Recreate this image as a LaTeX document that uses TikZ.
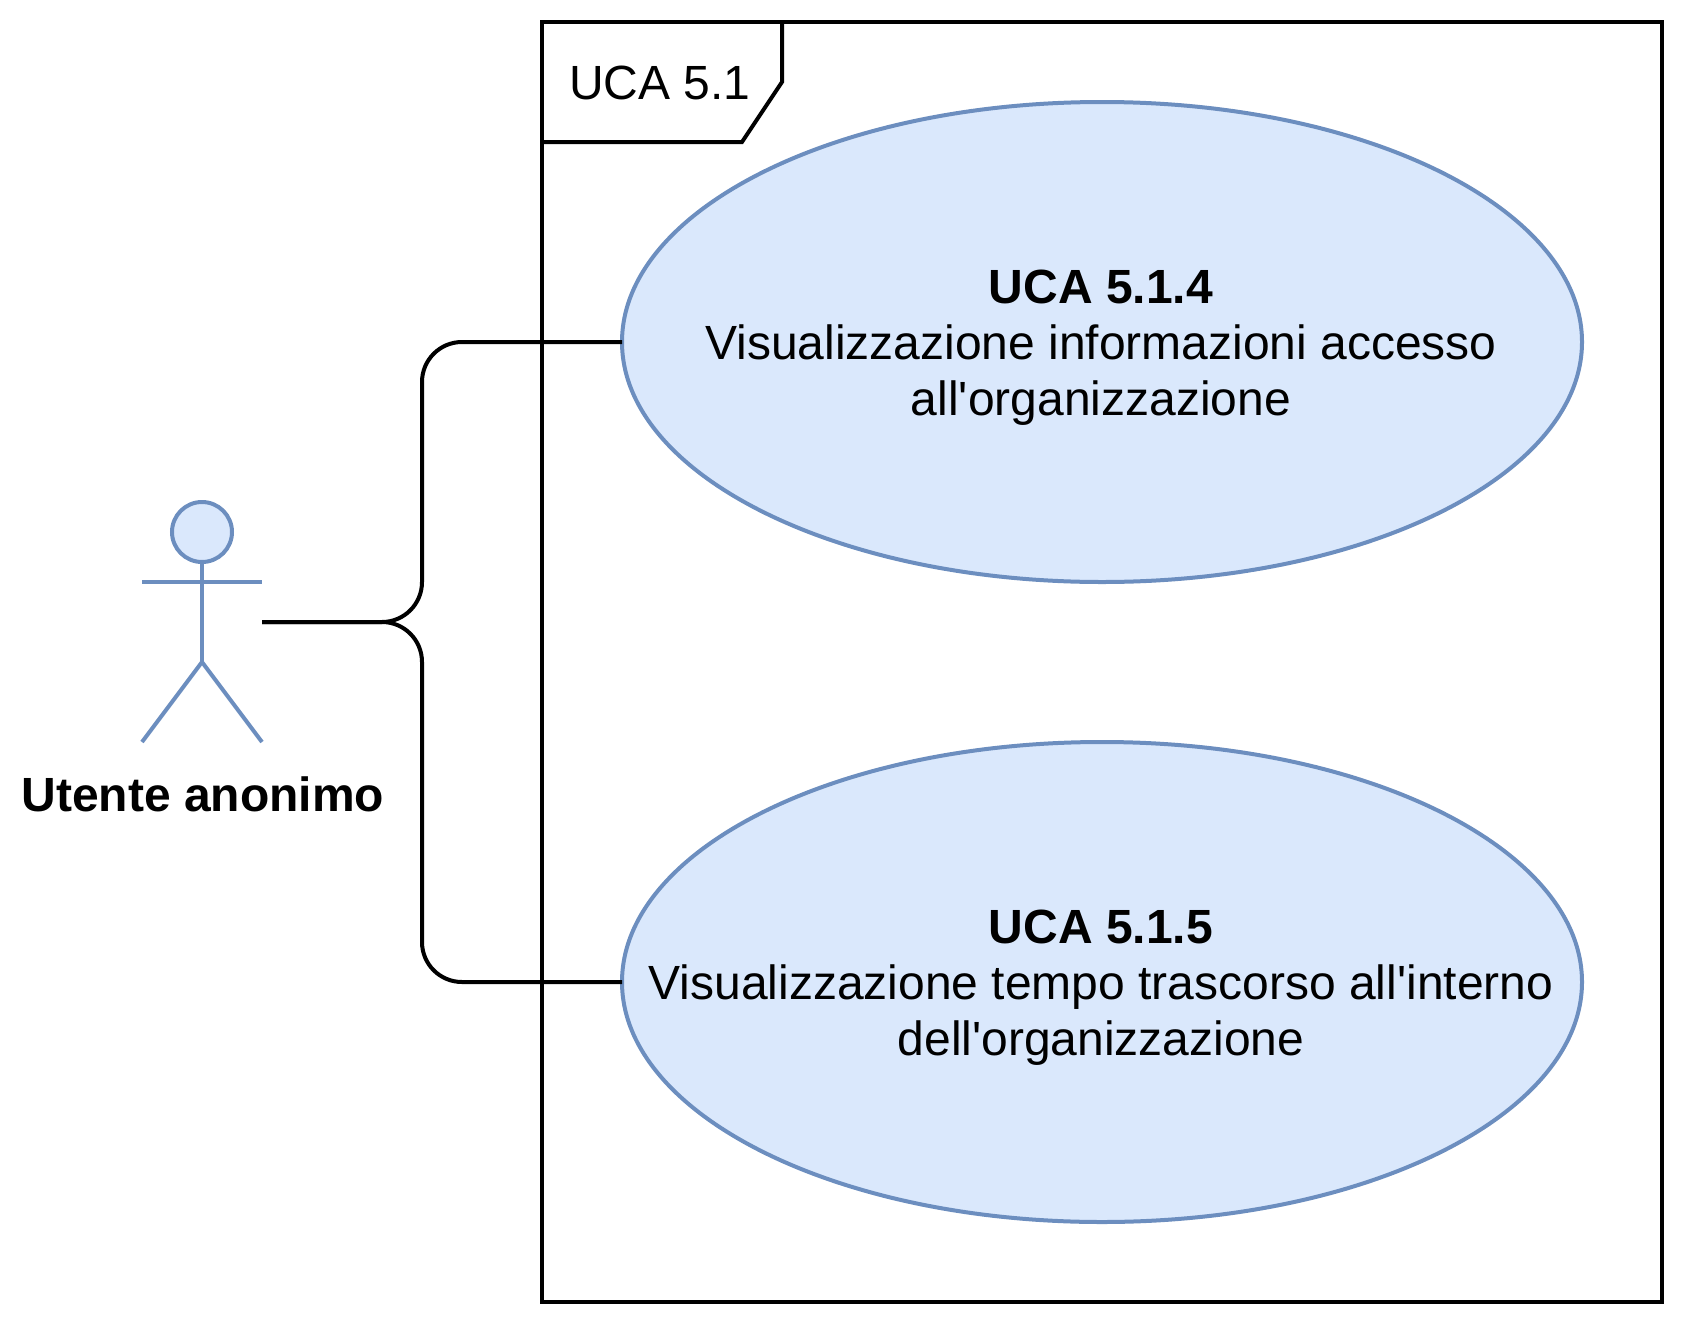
\documentclass[tikz,border=0pt]{standalone}
\usepackage{fontspec}
\usetikzlibrary{shapes.geometric}
\newfontfamily\ucafont{Liberation Sans}
\definecolor{ucafill}{HTML}{DAE8FC}
\definecolor{ucaline}{HTML}{6C8EBF}
\tikzset{
  usecase/.style={draw=ucaline, fill=ucafill, line width=4pt, ellipse, inner sep=0pt, outer sep=0pt, minimum width=960pt, minimum height=480pt},
  usetext/.style={align=center, inner sep=0pt, xshift=-1pt, yshift=-6pt},
  stickman/.style={draw=ucaline, line width=4pt},
  framebox/.style={draw, line width=4pt, rectangle, inner sep=0pt, outer sep=0pt, minimum width=1120pt, minimum height=1280pt},
  wire/.style={draw, line width=4pt, rounded corners=40pt}
}
\begin{document}
\begin{tikzpicture}[x=1pt, y=-1pt, node distance=640pt, font=\ucafont\fontsize{48}{56}\selectfont]
    \useasboundingbox (0,0) rectangle (1684,1328);

    \node[framebox] (frame) at (1102,662) {};
    \node (title) at (660,83) {UCA 5.1};
    \draw[line width=4pt] (frame.north west) ++(240,0) coordinate (tabtop) -- ++(0,60) coordinate (tabcut) -- ++(-40,60) coordinate (tabfoot) -- (frame.north west |- tabfoot);

    \node[usecase] (ucafour) at (1102,342) {};
    \node[usecase, below of=ucafour] (ucafive) {};
    \node[usetext] (ucafourtext) at (ucafour) {\textbf{UCA 5.1.4}\\Visualizzazione informazioni accesso\\all'organizzazione};
    \node[usetext] (ucafivetext) at (ucafive) {\textbf{UCA 5.1.5}\\Visualizzazione tempo trascorso all'interno\\dell'organizzazione};

    \node[stickman, fill=ucafill, circle, inner sep=0pt, outer sep=0pt, minimum size=60pt] (head) at (202,532) {};
    \coordinate (armleft) at (142,582);
    \coordinate (armright) at (262,582);
    \coordinate (hip) at (202,662);
    \coordinate (footleft) at (142,742);
    \coordinate (footright) at (262,742);
    \coordinate (actorport) at (262,622);
    \node (actorname) at (203,794) {\textbf{Utente anonimo}};

    \draw[stickman] (head) -- (hip);
    \draw[stickman] (armleft) -- (armright);
    \draw[stickman] (footleft) -- (hip) -- (footright);

    \draw[wire] (actorport) -- (422,622) -- (422,342) -- (ucafour.west);
    \draw[wire] (actorport) -- (422,622) -- (422,982) -- (ucafive.west);
\end{tikzpicture}
\end{document}
